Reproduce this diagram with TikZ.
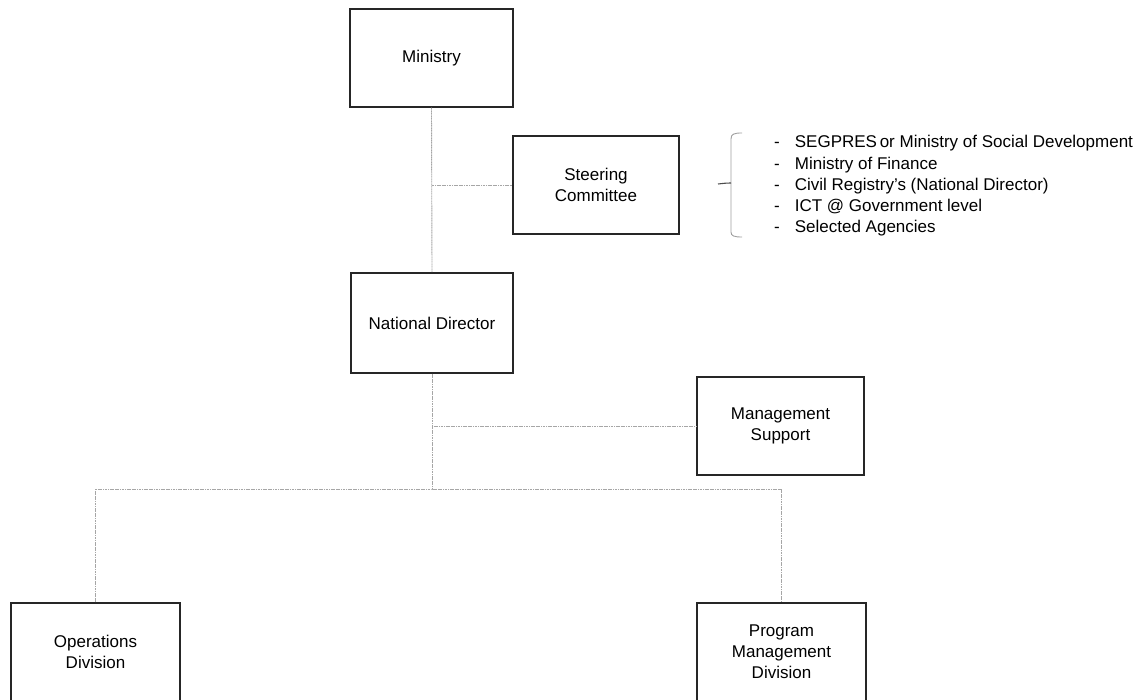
\documentclass[tikz,border=0pt]{standalone}
\usepackage{fontspec}
\setmainfont{Liberation Sans}
\begin{document}
\begin{tikzpicture}[x=1pt,y=-1pt,
  unit/.style={draw=black!85,line width=1.3pt,fill=white,align=center,
    inner sep=0pt,font=\fontsize{17}{21}\selectfont},
  link/.style={draw=gray!70,line width=0.9pt,dash pattern=on 1.2pt off 0.5pt},
  bracket/.style={draw=gray!75,line width=0.9pt}]
\useasboundingbox (0,0) rectangle (1141,700);

% organisation units
\node[unit,minimum width=163,minimum height=98] (ministry) at (431.5,58) {Ministry};
\node[unit,minimum width=166,minimum height=98] (steering) at (596,185) {Steering\\Committee};
\node[unit,minimum width=162,minimum height=100] (director) at (432,323) {National Director};
\node[unit,minimum width=167,minimum height=98] (support) at (780.5,426) {Management\\Support};
\node[unit,minimum width=169,minimum height=98] (ops) at (95.5,652) {Operations\\Division};
\node[unit,minimum width=169,minimum height=98] (pmd) at (781.5,652) {Program\\Management\\Division};

% reporting lines
\coordinate (sjoin) at (ministry.south |- steering.west);
\coordinate (mjoin) at (director.south |- support.west);
\coordinate (bus) at (432,489);
\draw[link] (ministry.south) -- (director.north);
\draw[link] (sjoin) -- (steering.west);
\draw[link] (director.south) -- (bus);
\draw[link] (mjoin) -- (support.west);
\draw[link] (ops.north) |- (bus) -| (pmd.north);

% committee membership
\draw[bracket] (742,133) .. controls (734,133) and (731,134) .. (731,139) -- (731,232)
  .. controls (731,236) and (734,237) .. (742,237);
\coordinate (btip) at (731,183);
\draw[draw=black!70,line width=1.1pt] (btip) .. controls (727,183) .. (718,184);
\node[anchor=base west,inner sep=0pt,font=\fontsize{17}{21.25}\selectfont] (members) at (774,148)
  {\begin{tabular}[t]{@{}l@{\hspace{15pt}}l@{}}
   - & SEGPRES\hspace{-2pt} or Ministry of Social Development\\
   - & Ministry of Finance\\
   - & Civil Registry's (National Director)\\
   - & ICT @ Government level\\
   - & Selected Agencies
   \end{tabular}};
\end{tikzpicture}
\end{document}
